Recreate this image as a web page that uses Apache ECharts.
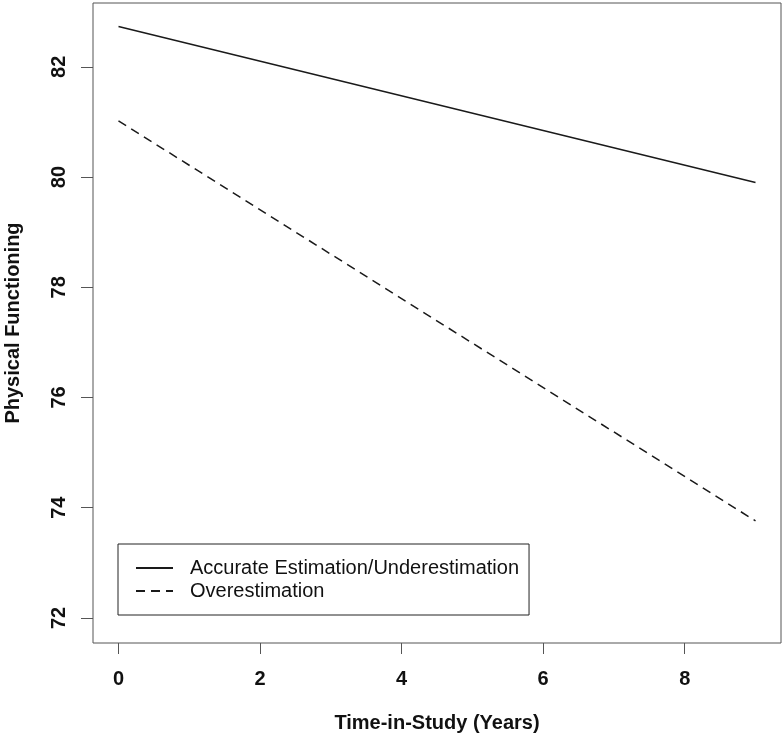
<!DOCTYPE html>
<html>
<head>
<meta charset="utf-8">
<script src="https://cdn.jsdelivr.net/npm/echarts@6/dist/echarts.min.js"></script>
<style>html,body{margin:0;padding:0;background:#fff}#c{width:784px;height:740px}</style>
</head>
<body>
<div id="c"></div>
<script>
var years = [0, 9];
var accurate = [82.73, 79.90];
var overest = [81.02, 73.76];
var xTicks = [0, 2, 4, 6, 8];
var yTicks = [72, 74, 76, 78, 80, 82];
var seriesNames = ['Accurate Estimation/Underestimation', 'Overestimation'];

var FONT = "'Liberation Sans', Arial, Helvetica, sans-serif";
var chart = echarts.init(document.getElementById('c'), null, {renderer: 'canvas'});
chart.setOption({
  animation: false,
  backgroundColor: '#fff',
  grid: {left: 93, right: 3, top: 3, bottom: 97, show: true, borderColor: '#555', borderWidth: 1,
         backgroundColor: 'transparent', containLabel: false, outerBoundsMode: 'none'},
  legend: {
    left: 118, top: 544,
    orient: 'vertical',
    data: seriesNames,
    borderColor: '#222', borderWidth: 1,
    padding: [14, 10, 14, 17],
    itemWidth: 37, itemHeight: 20, itemGap: 3,
    itemStyle: {opacity: 0},
    textStyle: {fontFamily: FONT, fontSize: 20, color: '#111', padding: [0, 0, 0, 12]},
    selectedMode: false
  },
  xAxis: {
    type: 'value', min: -0.36, max: 9.36,
    name: 'Time-in-Study (Years)', nameLocation: 'middle', nameGap: 70,
    nameTextStyle: {fontFamily: FONT, fontSize: 20, fontWeight: 'bold', color: '#111'},
    axisLine: {show: false, onZero: false},
    axisTick: {show: true, customValues: xTicks, length: 11, lineStyle: {color: '#555'}},
    axisLabel: {customValues: xTicks, fontFamily: FONT, fontSize: 20, fontWeight: 'bold', color: '#111', margin: 26},
    splitLine: {show: false}
  },
  yAxis: {
    type: 'value', min: 71.545, max: 83.158,
    name: 'Physical Functioning', nameLocation: 'middle', nameGap: 70, nameRotate: 90,
    nameTextStyle: {fontFamily: FONT, fontSize: 20, fontWeight: 'bold', color: '#111'},
    axisLine: {show: false, onZero: false},
    axisTick: {show: true, customValues: yTicks, length: 12, lineStyle: {color: '#555'}},
    axisLabel: {customValues: yTicks, rotate: 90, fontFamily: FONT, fontSize: 20, fontWeight: 'bold', color: '#111', margin: 24},
    splitLine: {show: false}
  },
  series: [
    {name: seriesNames[0], type: 'line', symbol: 'none', data: years.map(function(x, i){return [x, accurate[i]];}),
     lineStyle: {color: '#1a1a1a', width: 1.5, type: 'solid'}, itemStyle: {color: '#1a1a1a'}},
    {name: seriesNames[1], type: 'line', symbol: 'none', data: years.map(function(x, i){return [x, overest[i]];}),
     lineStyle: {color: '#1a1a1a', width: 1.5, type: [9, 6]}, itemStyle: {color: '#1a1a1a'}}
  ]
});
</script>
</body>
</html>
